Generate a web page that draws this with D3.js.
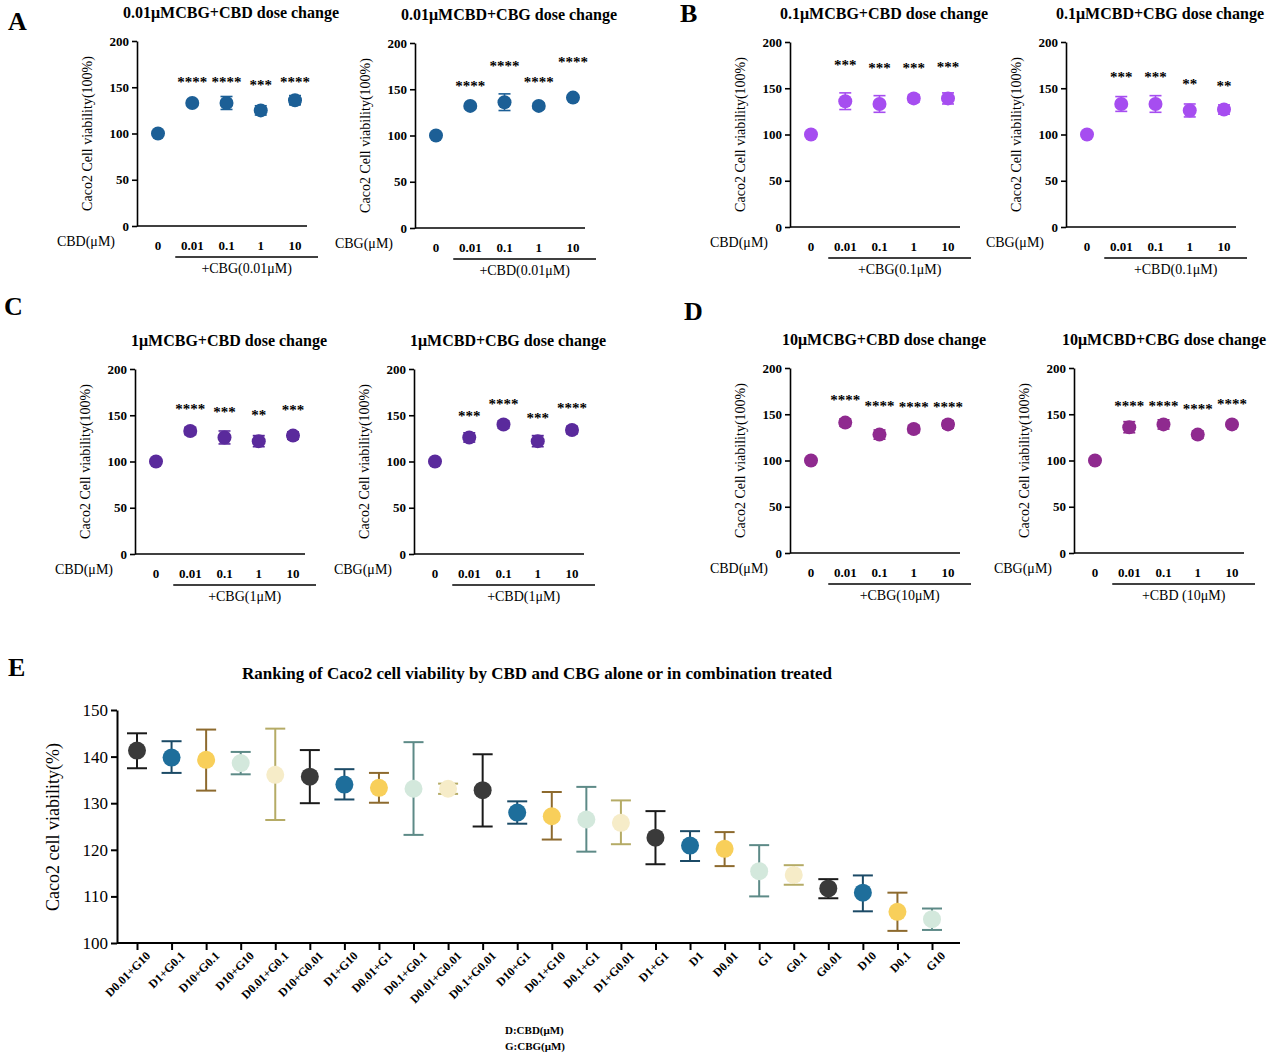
<!DOCTYPE html><html><head><meta charset="utf-8">
<script src="https://cdn.jsdelivr.net/npm/d3@7"></script>
<style>body{margin:0;background:#fff}text{font-family:"Liberation Serif",serif}</style></head><body>
<svg id="c" width="1280" height="1058"></svg>
<script>
const doses=["0","0.01","0.1","1","10"];
const titles=["0.01μMCBG+CBD dose change","0.01μMCBD+CBG dose change","0.1μMCBG+CBD dose change","0.1μMCBD+CBG dose change","1μMCBG+CBD dose change","1μMCBD+CBG dose change","10μMCBG+CBD dose change","10μMCBD+CBG dose change"];
const xNames=["CBD(μM)","CBG(μM)","CBD(μM)","CBG(μM)","CBD(μM)","CBG(μM)","CBD(μM)","CBG(μM)"];
const subLabels=["+CBG(0.01μM)","+CBD(0.01μM)","+CBG(0.1μM)","+CBD(0.1μM)","+CBG(1μM)","+CBD(1μM)","+CBG(10μM)","+CBD (10μM)"];
const means=[[100,133,133,125,136],[100,132,136,132,141],[100,136,133,139,139],[100,133,133,126,127],[100,133,126,122,128],[100,126,140,122,134],[100,141,128,134,139],[100,136,139,128,139]];
const errs=[[2,2,7,5,5],[2,2,9,3,3],[2,9,9,4,6],[2,8,9,7,5],[2,4,7,6,4],[2,5,4,6,4],[2,4,5,4,4],[2,6,5,4,3]];
const stars=[["","****","****","***","****"],["","****","****","****","****"],["","***","***","***","***"],["","***","***","**","**"],["","****","***","**","***"],["","***","****","***","****"],["","****","****","****","****"],["","****","****","****","****"]];
const starVals=[[0,150,150,147,150],[0,148,170,152,174],[0,170,166,166,168],[0,157,157,149,147],[0,151,148,145,150],[0,144,157,142,152],[0,160,153,152,152],[0,154,154,150,156]];
const colors=["#1c5f96","#1c5f96","#a64df0","#a64df0","#5a2a9c","#5a2a9c","#8f2a8f","#8f2a8f"];
const panelX=[137,415,790,1066,135,414,790,1074];
const panelTop=[41,43,42,42,369,369,368,368];
const panelLetters=[["A",8,30],["B",680,22],["C",4,315],["D",684,320],["E",8,676]];
const eNames=["D0.01+G10","D1+G0.1","D10+G0.1","D10+G10","D0.01+G0.1","D10+G0.01","D1+G10","D0.01+G1","D0.1+G0.1","D0.01+G0.01","D0.1+G0.01","D10+G1","D0.1+G10","D0.1+G1","D1+G0.01","D1+G1","D1","D0.01","G1","G0.1","G0.01","D10","D0.1","G10"];
const eMeans=[141.3,139.8,139.3,138.6,136.1,135.7,134,133.3,133.1,133.1,132.8,128,127.2,126.5,125.8,122.6,120.9,120.2,115.4,114.6,111.7,110.8,106.7,105.1];
const eLo=[137.5,136.5,132.7,136.2,126.4,130,130.8,130.1,123.2,132,125,125.6,122.2,119.6,121.2,116.9,117.6,116.5,110,112.5,109.6,106.8,102.6,102.8];
const eHi=[145,143.3,145.8,141,146,141.4,137.3,136.5,143.1,134.2,140.5,130.4,132.4,133.5,130.6,128.3,124,123.8,121,116.7,113.7,114.5,110.8,107.4];
const eFill=["#3a3a3a","#1e6e9b","#f8cf5a","#d3e8dc","#f6ecc8"];
const eStroke=["#1a1a1a","#1b4a66","#8d6a2e","#5d8a87","#b5ab66"];
const svg=d3.select("#c");
panelLetters.forEach(([t,x,y])=>svg.append("text").attr("x",x).attr("y",y).attr("font-size",26).attr("font-weight","bold").text(t));
means.forEach((m,i)=>{
  const x0=panelX[i], top=panelTop[i], h=185;
  const g=svg.append("g").attr("transform",`translate(${x0},${top})`);
  const y=d3.scaleLinear().domain([0,200]).range([h,0]);
  const x=d3.scalePoint().domain(doses).range([21,158]);
  g.append("g").call(d3.axisLeft(y).tickValues([0,50,100,150,200]).tickSize(5).tickSizeOuter(0)).call(a=>{a.select(".domain").attr("stroke-width",1.6);a.selectAll("line").attr("stroke-width",1.6);a.selectAll("text").attr("font-size",13).attr("font-weight","bold").attr("font-family","Liberation Serif").attr("fill","#000");});
  g.append("line").attr("x1",0).attr("x2",170).attr("y1",h).attr("y2",h).attr("stroke","#000").attr("stroke-width",1.6);
  doses.forEach((d,j)=>{
    const cx=x(d), cy=y(m[j]), e=errs[i][j];
    g.append("line").attr("x1",cx).attr("x2",cx).attr("y1",y(m[j]-e)).attr("y2",y(m[j]+e)).attr("stroke",colors[i]).attr("stroke-width",1.6);
    [m[j]-e,m[j]+e].forEach(v=>g.append("line").attr("x1",cx-6).attr("x2",cx+6).attr("y1",y(v)).attr("y2",y(v)).attr("stroke",colors[i]).attr("stroke-width",1.6));
    g.append("circle").attr("cx",cx).attr("cy",cy).attr("r",7).attr("fill",colors[i]);
    if(stars[i][j]) g.append("text").attr("x",cx).attr("y",y(starVals[i][j])).attr("text-anchor","middle").attr("font-size",15).attr("font-weight","bold").text(stars[i][j]);
    g.append("text").attr("x",cx).attr("y",h+24).attr("text-anchor","middle").attr("font-size",13).attr("font-weight","bold").text(d);
  });
  g.append("line").attr("x1",x("0.01")-17).attr("x2",x("10")+23).attr("y1",h+31).attr("y2",h+31).attr("stroke","#000").attr("stroke-width",1.4);
  g.append("text").attr("x",(x("0.01")+x("10"))/2+3).attr("y",h+47).attr("text-anchor","middle").attr("font-size",14).text(subLabels[i]);
  g.append("text").attr("x",-22).attr("y",h+20).attr("text-anchor","end").attr("font-size",14).text(xNames[i]);
  g.append("text").attr("transform",`translate(-45,${h/2}) rotate(-90)`).attr("text-anchor","middle").attr("font-size",14).text("Caco2 Cell viability(100%)");
  g.append("text").attr("x",i===7?90:94).attr("y",-23).attr("text-anchor","middle").attr("font-size",16).attr("font-weight","bold").text(titles[i]);
});
// Panel E
const eg=svg.append("g").attr("transform","translate(117,710)");
const ey=d3.scaleLinear().domain([100,150]).range([233,0]);
const ex=d3.scalePoint().domain(eNames).range([20,815]);
eg.append("g").call(d3.axisLeft(ey).tickValues([100,110,120,130,140,150]).tickSize(6).tickSizeOuter(0)).call(a=>{a.select(".domain").attr("stroke-width",2);a.selectAll("line").attr("stroke-width",2);a.selectAll("text").attr("font-size",17).attr("font-family","Liberation Serif").attr("fill","#000");});
eg.append("g").attr("transform","translate(0,233)").call(d3.axisBottom(ex).tickSize(7).tickSizeOuter(0)).call(a=>{a.select(".domain").attr("d","M0,0H843").attr("stroke-width",2);a.selectAll("line").attr("stroke-width",2);a.selectAll("text").attr("font-size",12).attr("font-weight","bold").attr("font-family","Liberation Serif").attr("fill","#000").attr("text-anchor","end").attr("transform","translate(4,4) rotate(-45)").attr("dy","0.3em");});
eNames.forEach((n,k)=>{
  const cx=ex(n), c=k%5;
  eg.append("line").attr("x1",cx).attr("x2",cx).attr("y1",ey(eLo[k])).attr("y2",ey(eHi[k])).attr("stroke",eStroke[c]).attr("stroke-width",2);
  [eLo[k],eHi[k]].forEach(v=>eg.append("line").attr("x1",cx-10).attr("x2",cx+10).attr("y1",ey(v)).attr("y2",ey(v)).attr("stroke",eStroke[c]).attr("stroke-width",2));
  eg.append("circle").attr("cx",cx).attr("cy",ey(eMeans[k])).attr("r",9).attr("fill",eFill[c]);
});
eg.append("text").attr("transform","translate(-58,117) rotate(-90)").attr("text-anchor","middle").attr("font-size",18).text("Caco2 cell viability(%)");
svg.append("text").attr("x",537).attr("y",679).attr("text-anchor","middle").attr("font-size",17).attr("font-weight","bold").text("Ranking of Caco2 cell viability by CBD and CBG alone or in combination treated");
svg.append("text").attr("x",505).attr("y",1034).attr("font-size",11).attr("font-weight","bold").text("D:CBD(μM)");
svg.append("text").attr("x",505).attr("y",1050).attr("font-size",11).attr("font-weight","bold").text("G:CBG(μM)");
</script></body></html>
